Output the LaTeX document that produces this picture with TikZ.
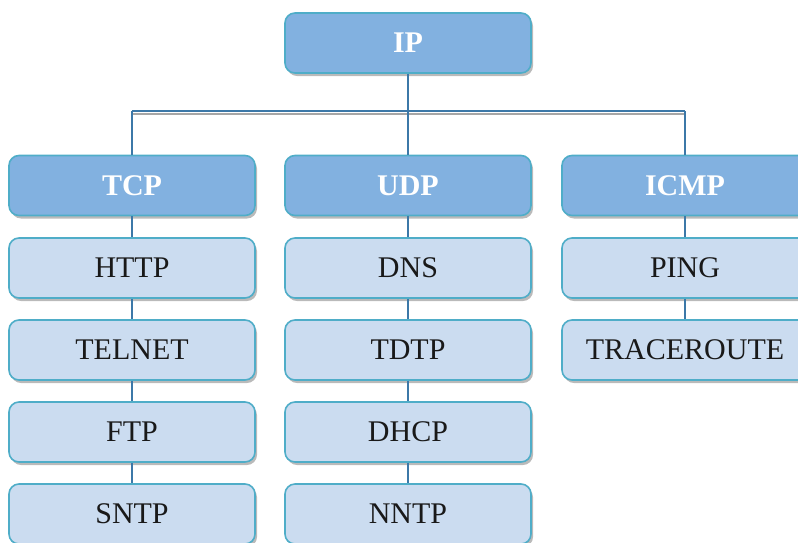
\documentclass[tikz,border=0pt]{standalone}
\usepackage{fontspec}
\setmainfont{Liberation Serif}
\usetikzlibrary{shadows}
\definecolor{boxborder}{HTML}{4FADC8}
\definecolor{headfill}{HTML}{82B1E0}
\definecolor{itemfill}{HTML}{CBDCF0}
\definecolor{linkcol}{HTML}{3C78A8}
\begin{document}
\begin{tikzpicture}[x=1pt,y=1pt,
  basebox/.style={draw=boxborder, line width=1.6pt, rounded corners=10pt,
    minimum width=246pt, minimum height=60pt, inner sep=0pt,
    drop shadow={shadow xshift=2pt, shadow yshift=-3pt, opacity=0.45, fill=black!60}},
  headbox/.style={basebox, fill=headfill, text=white, font=\fontsize{30}{32}\selectfont\bfseries},
  itembox/.style={basebox, fill=itemfill, text=black!90, font=\fontsize{30}{32}\selectfont},
  link/.style={draw=linkcol, line width=1.5pt},
  linkshadow/.style={draw=black!35, line width=1.4pt}
]
\useasboundingbox (0,0) rectangle (798,-542);
\clip (0,0) rectangle (798,-542);

\coordinate (busL) at (132,-111);
\coordinate (busM) at (408,-111);
\coordinate (busR) at (685,-111);
\coordinate (busLs) at (132,-114);
\coordinate (busRs) at (685,-114);

\node[headbox] (ip) at (408,-43) {IP};
\node[headbox] (tcp) at (132,-185.5) {TCP};
\node[headbox] (udp) at (408,-185.5) {UDP};
\node[headbox] (icmp) at (685,-185.5) {ICMP};

\node[itembox] (http) at (132,-268) {HTTP};
\node[itembox] (telnet) at (132,-350) {TELNET};
\node[itembox] (ftp) at (132,-432) {FTP};
\node[itembox] (sntp) at (132,-514) {SNTP};

\node[itembox] (dns) at (408,-268) {DNS};
\node[itembox] (tdtp) at (408,-350) {TDTP};
\node[itembox] (dhcp) at (408,-432) {DHCP};
\node[itembox] (nntp) at (408,-514) {NNTP};

\node[itembox] (ping) at (685,-268) {PING};
\node[itembox] (trace) at (685,-350) {TRACEROUTE};

% connectors
\draw[linkshadow] (busLs) -- (busRs);
\draw[link] (busL) -- (busR);
\draw[link] (ip.south) -- (busM);
\draw[link] (busL) -- (tcp.north);
\draw[link] (busM) -- (udp.north);
\draw[link] (busR) -- (icmp.north);
\draw[link] (tcp.south) -- (http.north);
\draw[link] (http.south) -- (telnet.north);
\draw[link] (telnet.south) -- (ftp.north);
\draw[link] (ftp.south) -- (sntp.north);
\draw[link] (udp.south) -- (dns.north);
\draw[link] (dns.south) -- (tdtp.north);
\draw[link] (tdtp.south) -- (dhcp.north);
\draw[link] (dhcp.south) -- (nntp.north);
\draw[link] (icmp.south) -- (ping.north);
\draw[link] (ping.south) -- (trace.north);
\end{tikzpicture}
\end{document}
